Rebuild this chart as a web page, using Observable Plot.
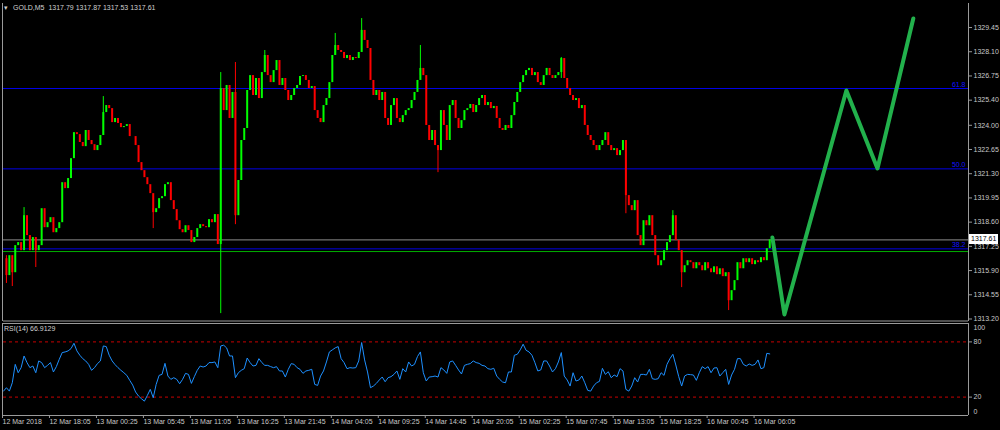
<!DOCTYPE html>
<html><head><meta charset="utf-8">
<script src="https://cdn.jsdelivr.net/npm/d3@7"></script>
<script src="https://cdn.jsdelivr.net/npm/@observablehq/plot@0.6"></script>
<style>
html,body{margin:0;padding:0;background:#000;}
#wrap{position:relative;width:1000px;height:430px;background:#000;overflow:hidden;font-family:"Liberation Sans",sans-serif;}
#wrap svg{position:absolute;left:0;}
.lbl{position:absolute;color:#d0d0d0;font-size:7px;white-space:pre;line-height:9px;}
</style></head><body><div id="wrap"></div>
<script>
// ---- data (candle index k = one sample every 4 five-minute bars) ----
const closes = [
1316.56,1315.62,1316.73,1315.78,1317.29,1317.46,1317.01,1318.96,1317.85,1317.01,
1317.74,1317.01,1317.29,1319.35,1318.29,1318.57,1318.85,1318.01,1318.24,1318.57,
1320.80,1320.47,1321.03,1322.14,1323.59,1323.48,1323.04,1322.81,1323.71,1323.15,
1322.92,1322.59,1322.87,1323.43,1324.71,1325.10,1324.93,1324.15,1324.38,1324.10,
1323.87,1323.93,1324.04,1323.37,1323.37,1322.87,1321.92,1321.47,1321.08,1320.69,
1320.19,1319.13,1319.35,1319.91,1320.02,1320.69,1320.80,1319.80,1319.30,1318.68,
1318.18,1318.01,1318.40,1318.13,1317.46,1317.74,1318.24,
1318.46,1318.35,1318.29,1318.74,1318.57,1319.02,1317.35,1326.05,1324.82,1326.22,1324.38,1325.83,1318.96,
1320.92,1323.15,1323.82,1325.94,1326.77,1325.66,1326.61,1325.49,1326.94,1327.89,
1326.77,1326.38,1327.05,1327.61,1326.22,1326.61,1325.94,1325.38,1325.66,1326.05,
1326.22,1326.72,1326.77,1326.50,1326.05,1326.16,1324.82,1324.38,1324.15,1325.10,
1325.49,1326.38,1327.89,1328.45,1328.17,1328.06,1327.72,1327.89,1327.61,1327.78,
1327.72,1328.06,1329.29,1328.73,1328.28,1326.50,1325.66,1325.94,1325.38,1325.83,
1324.38,1323.99,1325.10,1325.49,1324.38,1324.15,1324.54,1324.82,1324.93,1325.38,
1325.83,1326.50,1327.17,1326.77,1323.99,1323.15,1323.71,1322.87,1322.59,1324.82,
1323.99,1323.15,1325.10,1325.38,1324.38,1323.82,1324.26,1324.82,1324.93,1325.16,
1324.71,1325.10,1325.49,1325.66,1325.10,1325.27,1324.93,1325.05,1324.38,1323.82,
1323.71,1323.99,1323.82,1324.54,1325.27,1325.83,1326.38,1326.77,1327.05,1327.17,
1326.77,1326.94,1326.38,1326.22,1326.77,1327.17,1326.77,1326.61,1326.77,1326.94,
1327.72,1326.61,1326.05,1325.66,1325.38,1325.49,1324.93,1325.10,1323.99,1323.43,
1323.15,1322.87,1322.59,1322.87,1323.15,1323.59,1322.87,1322.59,1322.70,1322.31,
1322.59,1323.15,1320.08,1319.52,1319.24,1319.80,1317.85,1317.29,1318.68,1318.40,
1318.96,1317.85,1316.73,1316.17,1316.45,1317.01,1317.46,1317.85,1318.96,1317.57,
1317.01,1315.78,1316.17,1316.45,1316.34,1316.00,1316.34,1316.17,1315.89,1316.34,
1316.00,1315.78,1316.11,1315.67,1316.00,1315.56,1315.78,1314.22,1314.78,1315.34,
1316.34,1316.00,1316.56,1316.34,1316.56,1316.23,1316.45,1316.34,1316.62,1316.45,
1317.12,1317.61
];
// visible spike wicks: candle index, low, high
const wickK  = [1, 3, 7, 11, 34, 51, 74, 79, 89, 113, 122, 142, 148, 190, 212, 228, 231, 247];
const wickLo = [1315.18,1315.01,1317.46,1316.07,1323.43,1318.24,1313.50,1318.46,1326.94,1327.89,1328.70,1326.77,1321.36,1326.61,1319.07,1317.85,1314.95,1313.67];
const wickHi = [1316.73,1316.40,1319.41,1317.74,1325.60,1319.35,1326.94,1327.50,1328.17,1329.12,1329.95,1328.45,1322.87,1327.78,1323.15,1319.24,1317.01,1315.78];

const rsiValues = [
26.5,30.2,26.5,35.6,55.6,46.5,52.0,64.7,57.5,52.0,
53.8,46.5,59.3,57.5,52.0,54.5,57.5,47.3,53.1,61.1,
68.4,69.1,70.2,72.7,78.5,70.2,65.5,61.8,59.3,55.6,
49.1,52.0,56.4,59.3,75.6,74.9,65.5,59.3,55.3,52.0,
49.1,46.5,43.6,38.2,33.1,25.5,21.1,18.2,15.6,21.8,
28.4,19.3,33.8,43.6,44.7,56.7,42.9,39.3,41.1,39.3,
34.5,39.3,45.8,44.7,34.9,42.2,49.1,53.8,52.7,53.8,
57.5,57.5,58.2,52.0,75.6,76.4,73.5,64.7,64.7,41.1,
46.5,49.1,50.9,62.5,57.5,53.8,54.5,61.8,57.5,54.5,
54.5,53.1,52.0,53.1,48.4,48.4,41.8,50.2,56.4,55.6,
52.0,50.2,45.8,48.4,49.1,50.2,33.8,32.7,42.9,48.4,
58.2,69.1,71.3,73.5,74.9,61.8,57.5,50.9,52.0,51.6,
52.0,59.3,79.3,60.4,47.3,30.2,32.0,34.9,38.6,41.8,
36.7,41.1,42.2,44.7,48.4,39.3,50.9,47.3,58.2,53.8,
55.6,64.0,69.1,46.5,37.5,41.8,42.2,42.9,41.8,52.0,
49.5,45.8,58.2,59.3,54.5,49.5,45.1,54.5,55.6,56.4,
59.3,57.5,56.7,54.5,53.8,50.9,50.2,51.3,42.9,39.3,
36.4,35.6,47.3,47.3,65.5,66.5,71.3,77.5,70.9,69.1,
65.5,57.5,48.4,49.5,59.3,59.3,53.8,47.3,50.9,58.2,
68.4,42.9,38.6,32.0,46.5,37.5,38.6,42.9,35.6,27.3,
26.5,32.0,35.6,37.1,51.3,44.7,47.6,41.1,44.0,42.2,
50.9,48.4,28.4,26.5,32.0,41.1,36.4,44.7,44.7,44.0,
50.2,40.0,39.3,40.0,46.5,43.6,55.6,61.8,66.5,54.9,
42.2,32.0,42.9,44.7,44.4,44.0,38.2,46.5,53.1,50.9,
53.1,46.5,51.6,52.0,42.9,46.5,50.2,33.8,44.0,50.2,
61.8,61.8,55.6,53.8,56.0,54.5,55.6,60.4,50.9,52.0,
67.6,66.91
];

// hand-drawn projection (candle index, price)
const projK = [261.9, 266.0, 287.1, 297.7, 309.9];
const projPrice = [1317.74, 1313.45, 1325.94, 1321.59, 1329.95];

const fibLevels = [1326.05, 1321.57, 1317.11];
const fibLabels = ["61.8", "50.0", "38.2"];
const bidLevel = 1316.96;
const lastPrice = 1317.61;

const yTicks = [1329.45,1328.10,1326.75,1325.40,1324.00,1322.65,1321.30,1319.95,1318.60,1317.25,1315.90,1314.55,1313.20];
const rsiLevels = [80, 20];
const xTickK = [0,16,32,48,64,80,96,112,128,144,160,176,192,208,224,240,256];
const xLabels = ["12 Mar 2018","12 Mar 18:05","13 Mar 00:25","13 Mar 05:45","13 Mar 11:05","13 Mar 16:25","13 Mar 21:45","14 Mar 04:05","14 Mar 09:25","14 Mar 14:45","14 Mar 20:05","15 Mar 02:25","15 Mar 07:45","15 Mar 13:05","15 Mar 18:25","16 Mar 00:45","16 Mar 06:05"];
const headerText = "GOLD,M5  1317.79 1317.87 1317.53 1317.61";
const rsiTitle = "RSI(14) 66.9129";

// ---- build ----
const xMax = 328.7;
const FONT = '"Liberation Sans",sans-serif';
const candles = closes.map((c, k) => ({k, open: k ? closes[k - 1] : c, close: c}));
const wicks = wickK.map((k, i) => ({k, lo: wickLo[i], hi: wickHi[i], up: closes[k] >= (k ? closes[k - 1] : closes[k])}));
const rsiData = rsiValues.map((r, k) => ({k, r}));
const proj = projK.map((k, i) => ({k, p: projPrice[i]}));
const labelMap = new Map(xTickK.map((k, i) => [k, xLabels[i]]));
const GRID = "#9a9a9a";
const TXT = "#c8c8c8";
const UP = "#00ff00", DOWN = "#ff0000";

const wrap = document.getElementById("wrap");

const main = Plot.plot({
  width: 1000, height: 321,
  marginLeft: 3, marginRight: 32, marginTop: 3, marginBottom: 0,
  style: {background: "transparent", color: TXT, fontFamily: FONT, fontSize: "7px", overflow: "visible"},
  x: {domain: [0, xMax], axis: null},
  y: {domain: [1313.06, 1330.79], axis: null},
  marks: [
    Plot.ruleY([lastPrice], {stroke: "#8c8c8c"}),
    Plot.ruleY(fibLevels, {stroke: "#0000e6"}),
    Plot.ruleY([bidLevel], {stroke: "#00b000"}),
    Plot.text(fibLevels, {x: xMax, y: d => d, text: (d, i) => fibLabels[i], textAnchor: "end", dx: -3, dy: -4, fill: "#1010ff", fontSize: 7}),
    Plot.ruleX(wicks, {x: "k", y1: "lo", y2: "hi", stroke: d => d.up ? UP : DOWN, strokeWidth: 1}),
    Plot.ruleX(candles, {x: "k", y1: "open", y2: "close", stroke: d => d.close >= d.open ? UP : DOWN, strokeWidth: 2}),
    Plot.line(proj, {x: "k", y: "p", stroke: "#22b14c", strokeWidth: 4}),
    Plot.axisY({anchor: "right", ticks: yTicks, tickFormat: d3.format(".2f"), tickSize: 3, tickPadding: 2, stroke: GRID, fill: TXT, label: null}),
    Plot.ruleX([xMax], {stroke: GRID}),
    Plot.ruleX([0], {stroke: GRID, dx: -1}),
    Plot.ruleY([1313.06], {stroke: GRID, dy: -0.5})
  ]
});
main.style.top = "0px";
wrap.appendChild(main);

const rsiPlot = Plot.plot({
  width: 1000, height: 109,
  marginLeft: 3, marginRight: 32, marginTop: 2, marginBottom: 15,
  style: {background: "transparent", color: TXT, fontFamily: FONT, fontSize: "7px", overflow: "visible"},
  x: {domain: [0, xMax], axis: null},
  y: {domain: [0, 100], axis: null},
  marks: [
    Plot.ruleY(rsiLevels, {stroke: "#c80000", strokeDasharray: "3,3"}),
    Plot.line(rsiData, {x: "k", y: "r", stroke: "#1e90ff", strokeWidth: 1}),
    Plot.axisY({anchor: "right", ticks: rsiLevels, tickSize: 3, tickPadding: 2, stroke: GRID, fill: TXT, label: null}),
    Plot.text([100], {x: xMax, y: d => d, text: d => String(d), textAnchor: "start", dx: 5, dy: 4, fill: TXT}),
    Plot.text([0], {x: xMax, y: d => d, text: d => String(d), textAnchor: "start", dx: 5, dy: -4, fill: TXT}),
    Plot.axisX({anchor: "bottom", ticks: xTickK, tickFormat: d => labelMap.get(d), tickSize: 3, tickPadding: 1, textAnchor: "start", dx: -1, stroke: GRID, fill: TXT, label: null}),
    Plot.ruleY([0], {stroke: GRID}),
    Plot.ruleY([100], {stroke: GRID}),
    Plot.ruleX([xMax], {stroke: GRID}),
    Plot.ruleX([0], {stroke: GRID, dx: -1})
  ]
});
rsiPlot.style.top = "321px";
wrap.appendChild(rsiPlot);

// header texts
function addLabel(text, left, top, extra) {
  const d = document.createElement("div");
  d.className = "lbl";
  d.style.left = left + "px"; d.style.top = top + "px";
  if (extra) d.style.cssText += extra;
  d.textContent = text;
  wrap.appendChild(d);
  return d;
}
addLabel("\u25BE", 4, 3);
addLabel(headerText, 13, 3);
addLabel(rsiTitle, 4, 324);

// current price box on the price axis
const yPx = main.scale("y").apply(lastPrice);
const xPx = main.scale("x").apply(xMax);
addLabel(d3.format(".2f")(lastPrice), xPx + 1, yPx - 5,
  "width:27px;height:10px;line-height:10px;padding-left:2px;background:#fff;color:#000;");
</script></body></html>
